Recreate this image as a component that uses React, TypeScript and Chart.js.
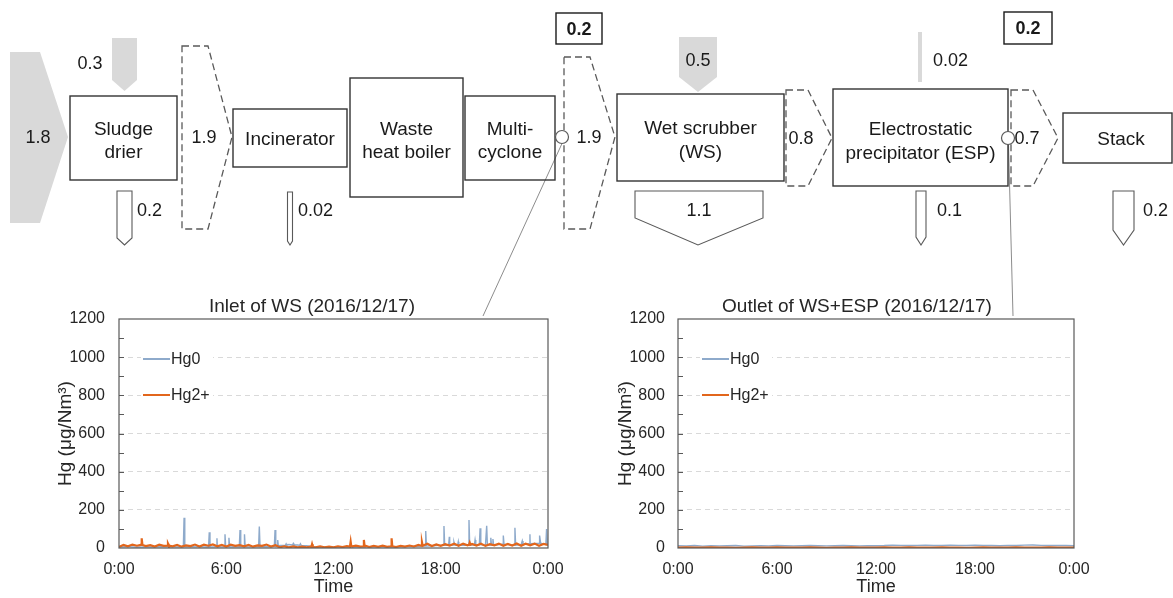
import React, { useEffect, useRef } from "react";
import { Chart, registerables } from "chart.js";

Chart.register(...registerables);

const FONT = "'Liberation Sans', Arial, Helvetica, sans-serif";
const TEXT = "#262626";

// ---- Data ----
const xTickHours = [0, 6, 12, 18, 24];
const yMax = 1200;
const yStep = 200;
const minorStep = 100;

// Inlet of WS – Hg2+ baseline, every 0.25 h from 0:00 to 24:00
const inletHg2Base = [
  6, 16, 9, 18, 12, 20, 10, 15, 8, 17, 11, 22, 9, 16, 7, 14,
  10, 18, 8, 17, 12, 19, 9, 16, 8, 17, 11, 15, 9, 16, 7, 14,
  11, 18, 8, 15, 4, 9, 3, 8, 3, 7, 4, 8, 3, 8, 4, 7,
  4, 9, 5, 10, 6, 12, 7, 13, 5, 11, 6, 12, 6, 12, 5, 11,
  7, 13, 8, 16, 12, 22, 10, 19, 11, 20, 13, 22, 12, 23, 14, 21,
  13, 22, 11, 20, 14, 23, 12, 21, 13, 24, 12, 22, 14, 23, 12, 21,
  16,
];
// Inlet of WS – Hg0 baseline, every 0.5 h
const inletHg0Base = [
  5, 7, 4, 6, 5, 8, 6, 5, 7, 6,
  5, 8, 6, 7, 5, 6, 8, 6, 14, 18,
  16, 12, 5, 6, 4, 5, 6, 5, 7, 6,
  5, 6, 7, 8, 10, 12, 14, 16, 12, 15,
  18, 14, 16, 20, 15, 18, 22, 25, 18,
];
// spikes: [hour, peak, foot]
const inletHg0Spikes = [
  [3.64, 158, 6], [5.05, 82, 6], [5.48, 51, 6], [5.93, 72, 6], [6.15, 54, 6],
  [6.77, 94, 6], [7.02, 72, 6], [7.85, 112, 6], [8.73, 94, 8], [8.88, 42, 8],
  [9.35, 22, 14], [9.75, 24, 16], [10.15, 22, 14],
  [17.16, 89, 10], [18.18, 115, 14], [18.48, 59, 14], [18.74, 30, 15], [18.98, 33, 14],
  [19.58, 147, 14], [19.92, 42, 16], [20.2, 103, 17], [20.57, 117, 14], [20.8, 54, 15],
  [20.92, 47, 15], [21.5, 65, 20], [22.15, 106, 15], [22.56, 37, 18], [22.99, 72, 22],
  [23.55, 65, 25], [23.92, 100, 18],
];
const inletHg2Spikes = [
  [1.27, 51, 16], [2.74, 24, 12], [10.8, 20, 5], [12.96, 33, 7], [13.7, 42, 9],
  [15.25, 51, 9], [16.95, 30, 12], [19.62, 28, 17],
];
// Outlet of WS+ESP, every 0.5 h
const outletHg0Base = [
  12, 11, 13, 10, 12, 11, 12, 13, 10, 11,
  12, 11, 13, 12, 11, 12, 13, 12, 11, 12,
  13, 12, 11, 12, 12, 13, 15, 14, 13, 14,
  15, 13, 14, 15, 14, 13, 15, 14, 13, 12,
  14, 13, 15, 16, 14, 13, 14, 13, 12,
];
const outletHg2Base = [
  2, 3, 2, 2, 3, 2, 2, 1, 2, 3,
  2, 2, 3, 2, 2, 2, 3, 2, 1, 2,
  2, 3, 2, 2, 2, 3, 2, 2, 3, 2,
  2, 2, 3, 2, 2, 1, 2, 3, 2, 2,
  2, 3, 2, 2, 2, 3, 2, 2, 2,
];
const noSpikes: number[][] = [];

const HG0_COLOR = "#8eaacb";
const HG2_COLOR = "#e2661c";

function buildSeries(base: number[], step: number, spikes: number[][]) {
  const pts = base.map((v, i) => ({ x: i * step, y: v }));
  spikes.forEach(([t, p, b]) => {
    pts.push({ x: t - 0.04, y: b }, { x: t, y: p }, { x: t + 0.04, y: b });
  });
  pts.sort((a, b) => a.x - b.x);
  return pts;
}

const framePlugin = {
  id: "frame",
  afterDatasetsDraw(chart: any) {
    const { ctx, chartArea } = chart;
    const { left, top } = chartArea;
    ctx.save();
    ctx.fillStyle = "#ffffff";
    ctx.fillRect(left + 22, top + 26, 72, 64);
    const items = [
      { text: "Hg0", color: HG0_COLOR, dy: 40 },
      { text: "Hg2+", color: HG2_COLOR, dy: 76 },
    ];
    items.forEach((it) => {
      ctx.strokeStyle = it.color;
      ctx.lineWidth = 2;
      ctx.beginPath();
      ctx.moveTo(left + 24, top + it.dy);
      ctx.lineTo(left + 51, top + it.dy);
      ctx.stroke();
      ctx.fillStyle = TEXT;
      ctx.font = `16px ${FONT}`;
      ctx.textBaseline = "middle";
      ctx.textAlign = "left";
      ctx.fillText(it.text, left + 52, top + it.dy + 1);
    });
    ctx.restore();
  },
  afterDraw(chart: any) {
    const { ctx, chartArea, scales } = chart;
    const { left, top, right, bottom } = chartArea;
    ctx.save();
    ctx.strokeStyle = "#595959";
    ctx.lineWidth = 1;
    for (let v = minorStep; v < yMax; v += minorStep) {
      const y = Math.round(scales.y.getPixelForValue(v)) + 0.5;
      ctx.beginPath();
      ctx.moveTo(left, y);
      ctx.lineTo(left + 5, y);
      ctx.stroke();
    }
    ctx.lineWidth = 1.2;
    ctx.strokeRect(left, top, right - left, bottom - top);
    // chart title, centred on the canvas
    const t = chart.options.plugins.frame?.title || "";
    ctx.fillStyle = TEXT;
    ctx.font = `19px ${FONT}`;
    ctx.textAlign = "center";
    ctx.textBaseline = "middle";
    ctx.fillText(t, chart.width / 2, 17);
    ctx.restore();
  },
};

type Props = {
  left: number;
  top: number;
  width: number;
  height: number;
  padRight: number;
  yAxisWidth: number;
  yTickPad: number;
  title: string;
  hg0: { x: number; y: number }[];
  hg2: { x: number; y: number }[];
};

function HgChart(p: Props) {
  const ref = useRef<HTMLCanvasElement>(null);
  useEffect(() => {
    const chart = new Chart(ref.current as HTMLCanvasElement, {
      type: "line",
      data: {
        datasets: [
          {
            label: "Hg2+",
            data: p.hg2,
            borderColor: HG2_COLOR,
            borderWidth: 2.2,
            pointRadius: 0,
            tension: 0,
            order: 0,
          },
          {
            label: "Hg0",
            data: p.hg0,
            borderColor: HG0_COLOR,
            borderWidth: 1.4,
            pointRadius: 0,
            tension: 0,
            order: 1,
          },
        ],
      },
      options: {
        animation: false,
        responsive: false,
        parsing: false as any,
        layout: { padding: { top: 29, right: p.padRight, bottom: 0, left: 0 } },
        plugins: {
          legend: { display: false },
          tooltip: { enabled: false },
          title: { display: false },
          frame: { title: p.title },
        } as any,
        scales: {
          x: {
            type: "linear",
            min: 0,
            max: 24,
            afterBuildTicks(scale: any) {
              scale.ticks = xTickHours.map((v) => ({ value: v }));
            },
            ticks: {
              color: TEXT,
              font: { size: 16, family: FONT },
              padding: 12,
              maxRotation: 0,
              autoSkip: false,
              callback: (v: any) => `${Number(v) % 24}:00`,
            },
            grid: { display: false, drawTicks: false },
            border: { display: false },
            title: {
              display: true,
              text: "Time",
              color: TEXT,
              font: { size: 18, family: FONT },
              padding: { top: -2, bottom: 0 },
            },
            afterFit(scale: any) {
              scale.height = 50;
            },
          },
          y: {
            min: 0,
            max: yMax,
            ticks: {
              stepSize: yStep,
              color: TEXT,
              font: { size: 16, family: FONT },
              padding: p.yTickPad,
              callback: (v: any) => String(v),
            },
            grid: {
              drawTicks: false,
              color: (c: any) =>
                c.tick && (c.tick.value === 0 || c.tick.value === yMax) ? "rgba(0,0,0,0)" : "#d9d9d9",
              lineWidth: 1,
            },
            border: { display: false, dash: [5, 4] },
            title: {
              display: true,
              text: "Hg (μg/Nm³)",
              color: TEXT,
              font: { size: 19, family: FONT },
              padding: { top: 14, bottom: 0 },
            },
            afterFit(scale: any) {
              scale.width = p.yAxisWidth;
            },
          },
        },
      },
      plugins: [framePlugin],
    } as any);
    return () => chart.destroy();
  }, []);
  return (
    <canvas
      ref={ref}
      width={p.width}
      height={p.height}
      style={{ position: "absolute", left: p.left, top: p.top, width: p.width, height: p.height }}
    />
  );
}

const BOX = { fill: "none", stroke: "#333333", strokeWidth: 1.4 };
const DASH = { fill: "none", stroke: "#595959", strokeWidth: 1.3, strokeDasharray: "7 4" };
const OUT = { fill: "#ffffff", stroke: "#595959", strokeWidth: 1.1 };
const GRAY = "#d9d9d9";

function T(props: { x: number; y: number; s?: number; a?: string; b?: boolean; children: any }) {
  return (
    <text
      x={props.x}
      y={props.y}
      fontSize={props.s ?? 18}
      textAnchor={(props.a as any) ?? "middle"}
      dominantBaseline="central"
      fontWeight={props.b ? "bold" : "normal"}
      fill="#1a1a1a"
      fontFamily={FONT}
    >
      {props.children}
    </text>
  );
}

function Diagram() {
  const L = 19;
  return (
    <svg
      width={1173}
      height={598}
      style={{ position: "absolute", left: 0, top: 0, pointerEvents: "none" }}
    >
      {/* connector lines */}
      <line x1={562} y1={143.5} x2={483} y2={316} stroke="#8c8c8c" strokeWidth={1} />
      <line x1={1008.5} y1={144.5} x2={1013} y2={316} stroke="#8c8c8c" strokeWidth={1} />

      {/* inputs */}
      <polygon points="10,52 40,52 68,137 40,223 10,223" fill={GRAY} />
      <T x={38} y={137}>1.8</T>
      <polygon points="112,38 137,38 137,80 124.5,91 112,80" fill={GRAY} />
      <T x={90} y={63}>0.3</T>
      <polygon points="679,37 717,37 717,77 698,92 679,77" fill={GRAY} />
      <T x={698} y={60}>0.5</T>
      <rect x={918} y={32} width={4} height={50} fill={GRAY} />
      <T x={933} y={60} a="start">0.02</T>

      {/* boxes */}
      <rect x={70} y={96} width={107} height={84} {...BOX} />
      <T x={123.5} y={128} s={L}>Sludge</T>
      <T x={123.5} y={151} s={L}>drier</T>

      <rect x={233} y={109} width={114} height={58} {...BOX} />
      <T x={290} y={138} s={L}>Incinerator</T>

      <rect x={350} y={78} width={113} height={119} {...BOX} />
      <T x={406.5} y={128} s={L}>Waste</T>
      <T x={406.5} y={151} s={L}>heat boiler</T>

      <rect x={465} y={96} width={90} height={84} {...BOX} />
      <T x={510} y={128} s={L}>Multi-</T>
      <T x={510} y={151} s={L}>cyclone</T>

      <rect x={617} y={94} width={167} height={87} {...BOX} />
      <T x={700.5} y={127} s={L}>Wet scrubber</T>
      <T x={700.5} y={151} s={L}>(WS)</T>

      <rect x={833} y={89} width={175} height={97} {...BOX} />
      <T x={920.5} y={128} s={L}>Electrostatic</T>
      <T x={920.5} y={152} s={L}>precipitator (ESP)</T>

      <rect x={1063} y={113} width={109} height={50} {...BOX} />
      <T x={1121} y={138} s={L}>Stack</T>

      {/* dashed flows */}
      <polygon points="182,46 208,46 232,137 208,229 182,229" {...DASH} />
      <T x={204} y={137}>1.9</T>
      <polygon points="564,57 590,57 615,137 590,229 564,229" {...DASH} />
      <T x={589} y={137}>1.9</T>
      <polygon points="786,90 808,90 832,138 808,186 786,186" {...DASH} />
      <T x={801} y={138}>0.8</T>
      <polygon points="1011,90 1033,90 1058,138 1033,186 1011,186" {...DASH} />
      <T x={1027} y={138}>0.7</T>

      {/* sampling points */}
      <circle cx={562} cy={137} r={6.5} fill="#ffffff" stroke="#595959" strokeWidth={1.2} />
      <circle cx={1008} cy={138} r={6.5} fill="#ffffff" stroke="#595959" strokeWidth={1.2} />

      {/* outputs */}
      <polygon points="117,191 132,191 132,238 124.5,245 117,238" {...OUT} />
      <T x={137} y={210} a="start">0.2</T>
      <polygon points="287.5,192 292.5,192 292.5,241 290,245 287.5,241" {...OUT} />
      <T x={298} y={210} a="start">0.02</T>
      <polygon points="635,191 763,191 763,218 698,245 635,218" {...OUT} />
      <T x={699} y={210}>1.1</T>
      <polygon points="916,191 926,191 926,237 921,245 916,237" {...OUT} />
      <T x={937} y={210} a="start">0.1</T>
      <polygon points="1113,191 1134,191 1134,230 1123.5,245 1113,230" {...OUT} />
      <T x={1143} y={210} a="start">0.2</T>

      {/* bold boxed values */}
      <rect x={556} y={13} width={46} height={31} fill="#ffffff" stroke="#1a1a1a" strokeWidth={1.4} />
      <T x={579} y={29} b>0.2</T>
      <rect x={1004} y={12} width={48} height={32} fill="#ffffff" stroke="#1a1a1a" strokeWidth={1.4} />
      <T x={1028} y={28} b>0.2</T>
    </svg>
  );
}

export default function App() {
  const inHg0 = buildSeries(inletHg0Base, 0.5, inletHg0Spikes);
  const inHg2 = buildSeries(inletHg2Base, 0.25, inletHg2Spikes);
  const outHg0 = buildSeries(outletHg0Base, 0.5, noSpikes);
  const outHg2 = buildSeries(outletHg2Base, 0.5, noSpikes);
  return (
    <div
      style={{
        position: "fixed",
        left: 0,
        top: 0,
        width: 1173,
        height: 598,
        background: "#ffffff",
        overflow: "hidden",
      }}
    >
      <HgChart
        left={40}
        top={290}
        width={544}
        height={308}
        padRight={36}
        yAxisWidth={79}
        yTickPad={14}
        title="Inlet of WS (2016/12/17)"
        hg0={inHg0}
        hg2={inHg2}
      />
      <HgChart
        left={600}
        top={290}
        width={514}
        height={308}
        padRight={40}
        yAxisWidth={78}
        yTickPad={13}
        title="Outlet of WS+ESP (2016/12/17)"
        hg0={outHg0}
        hg2={outHg2}
      />
      <Diagram />
    </div>
  );
}
